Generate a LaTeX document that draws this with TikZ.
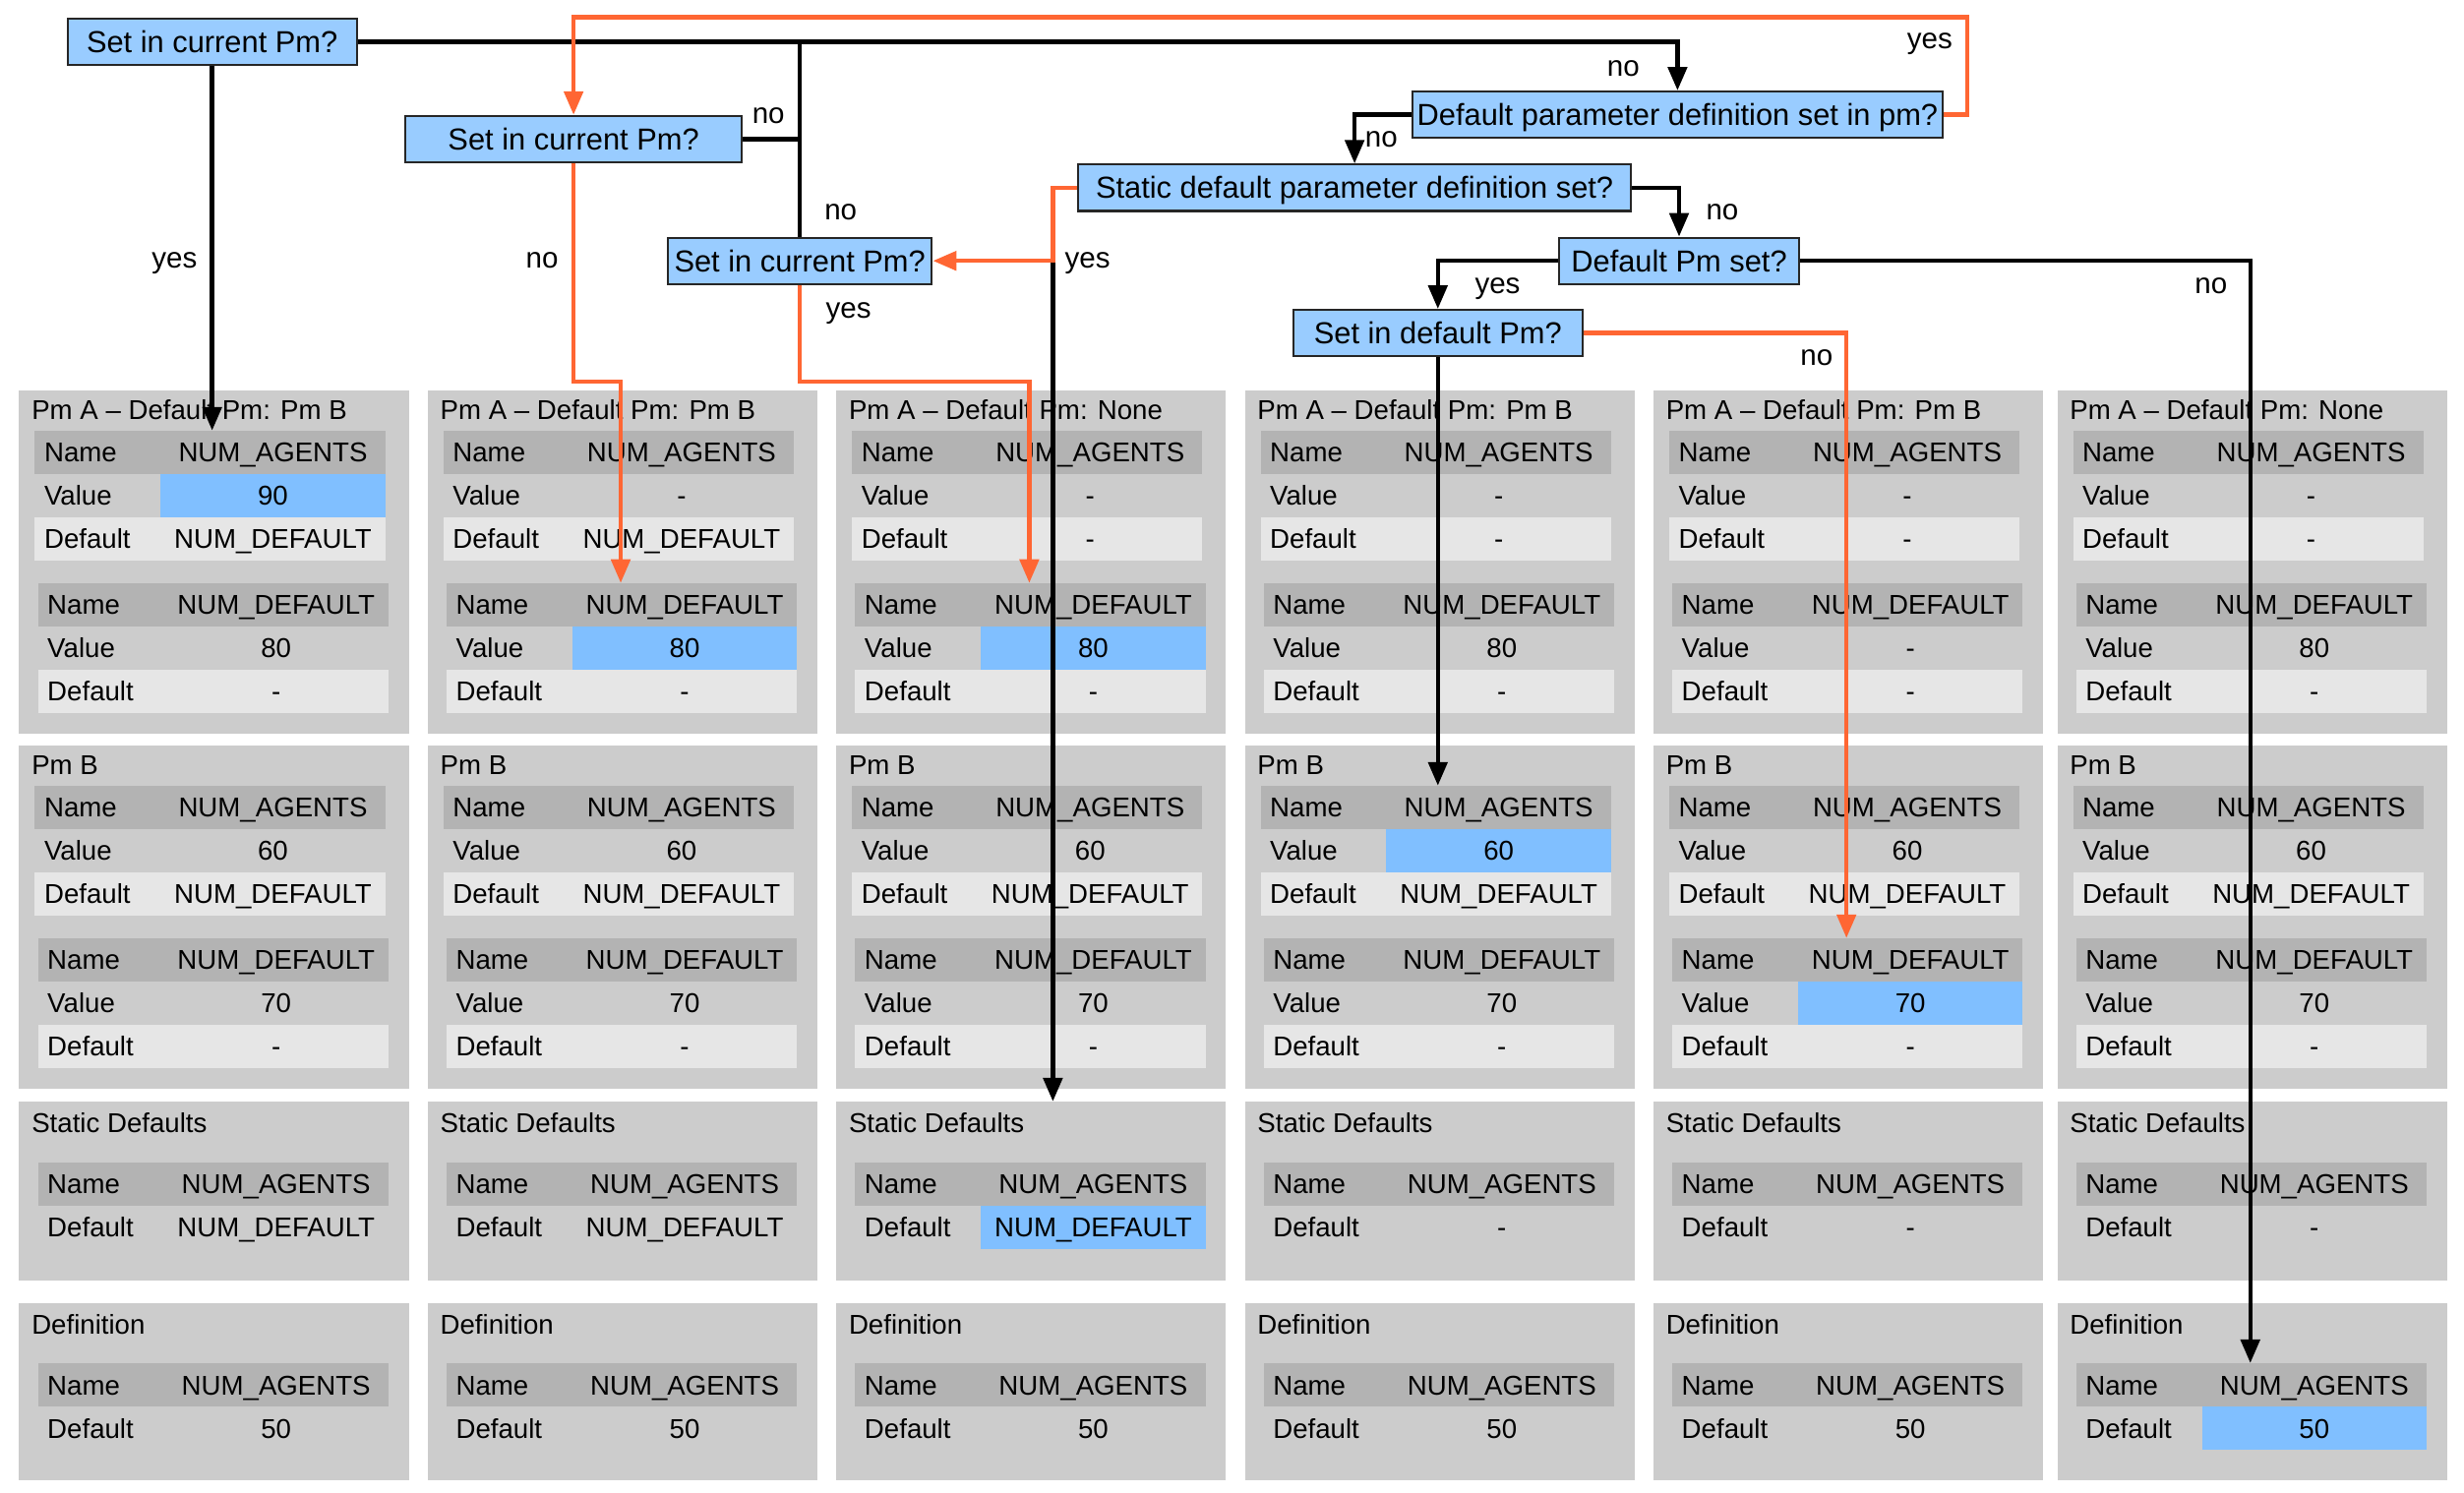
\documentclass[tikz,border=0pt]{standalone}
\usepackage{fontspec}
\setmainfont{Liberation Sans}
\usetikzlibrary{arrows.meta}

\definecolor{panelgray}{HTML}{CCCCCC}
\definecolor{hdrgray}{HTML}{B3B3B3}
\definecolor{litegray}{HTML}{E6E6E6}
\definecolor{hlblue}{HTML}{80BFFF}
\definecolor{decblue}{HTML}{99CCFF}
\definecolor{flow}{HTML}{FF6633}

\newcommand\tabfont{\fontsize{17.3}{20}\selectfont}
\newcommand\decfont{\fontsize{19.3}{23}\selectfont}
\newcommand\labfont{\fontsize{18.5}{22}\selectfont}

\tikzset{
  panel/.style={fill=panelgray, inner sep=0, anchor=north west, minimum width=248},
  ptitle/.style={anchor=base west, inner sep=0, font=\tabfont},
  cellbase/.style={anchor=north west, inner sep=0, minimum height=27.5,
                   text height=12.4, text depth=0, font=\tabfont},
  lcell/.style={cellbase, minimum width=80, text width=68, inner xsep=6, align=left},
  rcell/.style={cellbase, minimum width=143},
  hdr/.style={fill=hdrgray},
  bare/.style={},
  lite/.style={fill=litegray},
  hl/.style={fill=hlblue},
  decbox/.style={draw=black!85, line width=1.3, fill=decblue, font=\decfont,
                 minimum height=29.5, inner xsep=2, inner ysep=0,
                 text height=13.8, text depth=0},
  conn/.style={line width=2.8, -{Triangle[length=15pt,width=12pt]}},
  blk/.style={conn, draw=black},
  blkline/.style={line width=2.8, draw=black},
  org/.style={conn, draw=flow},
  lbl/.style={font=\labfont, inner sep=0, text height=9.6, text depth=0},
}

% one table row: name, x, y (top), row fill, label, value, extra value-cell style
\newcommand{\trow}[7]{%
  \node[lcell,#4] (#1l) at ({#2},{#3}) {#5};
  \node[rcell,#4,#7] (#1) at ({#2+80},{#3}) {#6};
}

% parameter-manager panel with two three-row tables
\newcommand{\pmpanel}[9]{%
  \node[panel, minimum height=219] (#1) at ({#2},{#3}) {};
  \node[ptitle] (#1t) at ({#2+8},{#3+19}) {#4};
  \trow{#1h1}{#2+10}{#3+26}{hdr}{Name}{NUM\_AGENTS}{}
  \trow{#1v1}{#2+10}{#3+53.5}{bare}{Value}{#5}{#8}
  \trow{#1d1}{#2+10}{#3+81}{lite}{Default}{#6}{}
  \trow{#1h2}{#2+12}{#3+123}{hdr}{Name}{NUM\_DEFAULT}{}
  \trow{#1v2}{#2+12}{#3+150.5}{bare}{Value}{#7}{#9}
  \trow{#1d2}{#2+12}{#3+178}{lite}{Default}{-}{}
}

% static defaults / definition panel with one two-row table
\newcommand{\sdpanel}[7]{%
  \node[panel, minimum height=#4] (#1) at ({#2},{#3}) {};
  \node[ptitle] (#1t) at ({#2+8},{#3+20}) {#5};
  \trow{#1h}{#2+12}{#3+38.5}{hdr}{Name}{NUM\_AGENTS}{}
  \trow{#1d}{#2+12}{#3+66}{bare}{Default}{#6}{#7}
}

\begin{document}
\begin{tikzpicture}[x=1pt, y=-1pt]
\useasboundingbox (0,0) rectangle (1568,950);

% ---------- Pm A panels ----------
\pmpanel{c1a}{12}{248}{Pm A – Default Pm: Pm B}{90}{NUM\_DEFAULT}{80}{hl}{}
\pmpanel{c2a}{272}{248}{Pm A – Default Pm: Pm B}{-}{NUM\_DEFAULT}{80}{}{hl}
\pmpanel{c3a}{532}{248}{Pm A – Default Pm: None}{-}{-}{80}{}{hl}
\pmpanel{c4a}{792}{248}{Pm A – Default Pm: Pm B}{-}{-}{80}{}{}
\pmpanel{c5a}{1052}{248}{Pm A – Default Pm: Pm B}{-}{-}{-}{}{}
\pmpanel{c6a}{1309}{248}{Pm A – Default Pm: None}{-}{-}{80}{}{}

% ---------- Pm B panels ----------
\pmpanel{c1b}{12}{474}{Pm B}{60}{NUM\_DEFAULT}{70}{}{}
\pmpanel{c2b}{272}{474}{Pm B}{60}{NUM\_DEFAULT}{70}{}{}
\pmpanel{c3b}{532}{474}{Pm B}{60}{NUM\_DEFAULT}{70}{}{}
\pmpanel{c4b}{792}{474}{Pm B}{60}{NUM\_DEFAULT}{70}{hl}{}
\pmpanel{c5b}{1052}{474}{Pm B}{60}{NUM\_DEFAULT}{70}{}{hl}
\pmpanel{c6b}{1309}{474}{Pm B}{60}{NUM\_DEFAULT}{70}{}{}

% ---------- Static defaults ----------
\sdpanel{c1s}{12}{701}{114}{Static Defaults}{NUM\_DEFAULT}{}
\sdpanel{c2s}{272}{701}{114}{Static Defaults}{NUM\_DEFAULT}{}
\sdpanel{c3s}{532}{701}{114}{Static Defaults}{NUM\_DEFAULT}{hl}
\sdpanel{c4s}{792}{701}{114}{Static Defaults}{-}{}
\sdpanel{c5s}{1052}{701}{114}{Static Defaults}{-}{}
\sdpanel{c6s}{1309}{701}{114}{Static Defaults}{-}{}

% ---------- Definitions ----------
\sdpanel{c1d}{12}{829}{113}{Definition}{50}{}
\sdpanel{c2d}{272}{829}{113}{Definition}{50}{}
\sdpanel{c3d}{532}{829}{113}{Definition}{50}{}
\sdpanel{c4d}{792}{829}{113}{Definition}{50}{}
\sdpanel{c5d}{1052}{829}{113}{Definition}{50}{}
\sdpanel{c6d}{1309}{829}{113}{Definition}{50}{hl}

% ---------- decisions ----------
\node[decbox, minimum width=184] (D1) at (135,26.5) {Set in current Pm?};
\node[decbox, minimum width=214] (D2) at (365,88.5) {Set in current Pm?};
\node[decbox, minimum width=168] (D3) at (509,166) {Set in current Pm?};
\node[decbox, minimum width=337] (D4) at (1067.5,73) {Default parameter definition set in pm?};
\node[decbox, minimum width=352] (D5) at (862,119.5) {Static default parameter definition set?};
\node[decbox, minimum width=153] (D6) at (1068.5,166) {Default Pm set?};
\node[decbox, minimum width=184] (D7) at (915,212) {Set in default Pm?};

% ---------- routing points ----------
\coordinate (jn)  at (D3.north |- D1.east);
\coordinate (top) at (1252,11);
\coordinate (k2)  at (395,243);
\coordinate (k3)  at (655,243);
\coordinate (k5)  at (670,119.5);
\coordinate (k12) at (1432,166);
\coordinate (k14) at (1175,212);

% ---------- connectors ----------
\draw[blk] (D1.south) -- (D1.south |- c1ah1.north);
\draw[blk] (D1.east) -| (D4.north);
\draw[blkline] (D2.east) -| (jn);
\draw[blkline] (D3.north) -- (jn);
\draw[org] (D4.east) -| (top) -| (D2.north);
\draw[blk] (D4.west) -| (D5.north);
\draw[org] (D2.south) |- (k2) -- (k2 |- c2ah2.north);
\draw[org] (D3.south) |- (k3) -- (k3 |- c3ah2.north);
\draw[blk] (D5.west) -- (k5) -- (k5 |- c3s.north);
\draw[org] (D5.west) -- (k5) |- (D3.east);
\draw[blk] (D5.east) -| (D6.north);
\draw[blk] (D6.west) -| (D7.north);
\draw[blk] (D6.east) -- (k12) -- (k12 |- c6dh.north);
\draw[blk] (D7.south) -- (D7.south |- c4bh1.north);
\draw[org] (D7.east) -- (k14) -- (k14 |- c5bh2.north);

% ---------- connector labels ----------
\node[lbl] (Lyes1) at (111,166) {yes};
\node[lbl] (Lno1)  at (1033,44) {no};
\node[lbl] (Lno2)  at (489,74) {no};
\node[lbl] (Lno3)  at (535,135) {no};
\node[lbl] (Lyes2) at (1228,26) {yes};
\node[lbl] (Lno4)  at (879,89) {no};
\node[lbl] (Lno5)  at (345,166) {no};
\node[lbl] (Lyes3) at (540,198) {yes};
\node[lbl] (Lyes4) at (692,166) {yes};
\node[lbl] (Lno6)  at (1096,135) {no};
\node[lbl] (Lyes5) at (953,182) {yes};
\node[lbl] (Lno7)  at (1407,182) {no};
\node[lbl] (Lno8)  at (1156,228) {no};
\end{tikzpicture}
\end{document}
